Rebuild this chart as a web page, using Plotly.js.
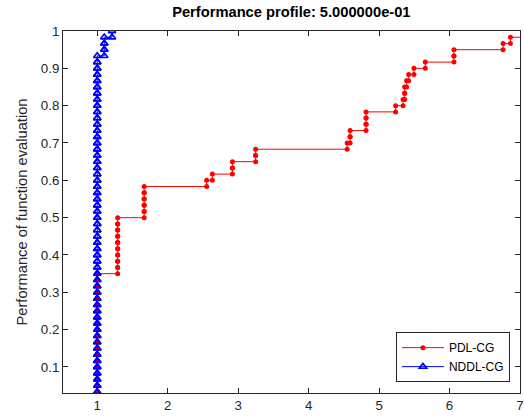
<!DOCTYPE html>
<html>
<head>
<meta charset="utf-8">
<script src="https://cdn.plot.ly/plotly-3.0.1.min.js"></script>
<style>html,body{margin:0;padding:0;background:#fff;}#chart{width:524px;height:416px;}</style>
</head>
<body>
<div id="chart"></div>
<script>
// Sorted performance ratios for each solver (60 problems)
var nProblems = 60;
var pdlRatios = [
  1,1,1,1,1,1,1,1,1,1,1,1,1,1,1,1,1,1,1,1,1,
  1.29,1.29,1.29,1.29,1.29,1.29,1.29,1.29,1.29,
  1.666,1.666,1.666,1.666,1.666,
  2.553, 2.634, 2.918, 2.918, 3.248, 3.248,
  4.547, 4.589, 4.589, 4.815, 4.815, 4.815,
  5.235, 5.34, 5.363, 5.363, 5.39, 5.42, 5.495, 5.656,
  6.062, 6.062, 6.76, 6.864, 8.0
];
var nddlRatios = [
  1,1,1,1,1,1,1,1,1,1,1,1,1,1,1,1,1,1,1,1,
  1,1,1,1,1,1,1,1,1,1,1,1,1,1,1,1,1,1,1,1,
  1,1,1,1,1,1,1,1,1,1,1,1,1,1,1,1,
  1.10, 1.10, 1.10, 1.21
];
var solverNames = ['PDL-CG', 'NDDL-CG'];
var xTicks = [1,2,3,4,5,6,7];
var yTicks = [0.1,0.2,0.3,0.4,0.5,0.6,0.7,0.8,0.9,1];
var yTickLabels = ['0.1','0.2','0.3','0.4','0.5','0.6','0.7','0.8','0.9','1'];

function stairs(x) {
  var xs = [], ys = [];
  for (var i = 0; i < x.length; i++) {
    var yi = (i + 1) / nProblems;
    if (i > 0) { xs.push(x[i]); ys.push(i / nProblems); }
    xs.push(x[i]); ys.push(yi);
  }
  return {x: xs, y: ys};
}

var s1 = stairs(pdlRatios);
var s2 = stairs(nddlRatios);

var traces = [
  {x: s1.x, y: s1.y, type: 'scatter', mode: 'lines+markers', name: solverNames[0],
   line: {color: '#ff0000', width: 1},
   marker: {symbol: 'circle', size: 5, color: '#ff0000'}},
  {x: s2.x, y: s2.y, type: 'scatter', mode: 'lines+markers', name: solverNames[1],
   line: {color: '#0000ff', width: 1},
   marker: {symbol: 'triangle-up-open', size: 6.5, color: '#0000ff', line: {width: 1.6, color: '#0000ff'}}}
];

var axisCommon = {
  showgrid: false, zeroline: false, showline: true, mirror: 'ticks',
  linecolor: '#262626', linewidth: 1, ticks: 'inside', ticklen: 5, tickwidth: 1,
  ticklabeloverflow: 'allow',
  tickcolor: '#262626', tickfont: {family: 'Liberation Sans, Arial, sans-serif', size: 13.3, color: '#262626'}
};

var layout = {
  width: 524, height: 416,
  margin: {l: 63, r: 4, t: 31, b: 23, pad: 0},
  paper_bgcolor: '#ffffff', plot_bgcolor: '#ffffff',
  title: {text: '<b>Performance profile: 5.000000e-01</b>', x: 0.556, xanchor: 'center', y: 0.972, yanchor: 'middle',
          font: {family: 'Liberation Sans, Arial, sans-serif', size: 14.7, color: '#000000'}},
  xaxis: Object.assign({}, axisCommon, {range: [0.514, 7], tickvals: xTicks, ticktext: xTicks.map(String)}),
  yaxis: Object.assign({}, axisCommon, {range: [0.0303, 1], tickvals: yTicks, ticktext: yTickLabels,
          title: {text: 'Performance of function evaluation', standoff: 9,
                  font: {family: 'Liberation Sans, Arial, sans-serif', size: 14.7, color: '#262626'}}}),
  showlegend: true,
  legend: {x: 0.978, xanchor: 'right', y: 0.03, yanchor: 'bottom', bgcolor: '#ffffff',
           bordercolor: '#262626', borderwidth: 1, itemwidth: 42,
           font: {family: 'Liberation Sans, Arial, sans-serif', size: 12, color: '#000000'},
           tracegroupgap: 0}
};

Plotly.newPlot('chart', traces, layout, {displayModeBar: false, staticPlot: true});
</script>
</body>
</html>
